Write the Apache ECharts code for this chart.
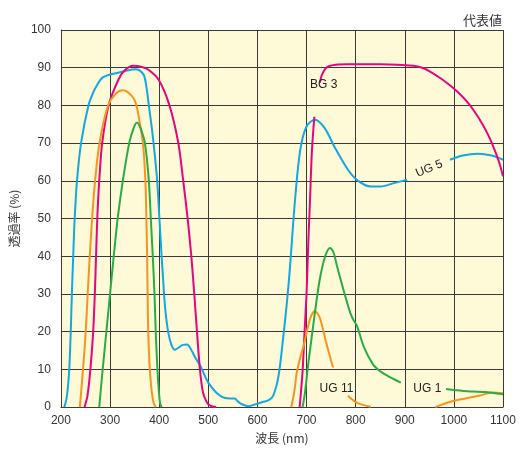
<!DOCTYPE html>
<html><head><meta charset="utf-8">
<script src="https://cdn.jsdelivr.net/npm/echarts@6/dist/echarts.min.js"></script>
<style>html,body{margin:0;padding:0;background:#fff}#c{width:520px;height:449px}</style>
</head><body><div id="c"></div>
<script>
// x ticks (nm) and y ticks (%)
var xTicks = [200,300,400,500,600,700,800,900,1000,1100];
var yTicks = [0,10,20,30,40,50,60,70,80,90,100];

// UG 5 (cyan)
var ug5_nm = [207,211,214,217,220,222.3,225,228,232.7,241,256,266,274,284,300,314,330,351,360,369,374,379,386,391,396,400.5,405,408,410.5,414,419,425,432,440,448,457,466,474,484,500,524,544,554,560,568,582,597,612,622,632,643,653,660,666,676,687,700,717,737,757,784,805,831,851,878,905,950,992,1018,1048,1077,1100];
var ug5_T  = [0,2,5,10,20,30,40,50,60,70,80,83.5,85.5,87.3,88.2,88.6,89.1,89.6,89.3,88,85,80,73,67,60,50,40,34,29,24,19.5,16.5,15.2,15.8,16.5,16.6,15,13,10.9,6.5,3,2.3,2.3,1.5,0.8,0.2,0.8,1.4,1.8,3,8.3,19,27.7,36.5,54,68,74.4,76.2,74,69,63,60,58.5,58.5,59.4,60.3,null,65.6,66.7,67.2,66.7,65.6];

// BG 3 (magenta)
var bg3_nm = [248,254,260,265.7,269,271.5,274,278,284,297,317,330,347,365,379,399,421,439,449,458,465.5,471.5,477,483,489,497,505,516,600,686,692,696,700,704,707,711,716,721,727,731,738,745,760,783,851,918,940,955,975,993,1010,1028,1043,1057,1069,1079,1092,1100];
var bg3_T  = [0,3,10,20,30,40,50,60,70,80,86.8,89.3,90.5,90.2,89.4,86.8,80,70,60,50,40,30,20,10,4,1.3,0.3,0,null,0,9.5,20,30,45,54.5,68,77,null,86,88,89.7,90.4,90.8,90.9,90.9,90.5,89.8,88.7,87,85.2,83.3,80.8,78.2,75.3,72.4,69.5,65,61.2];

// UG 11 (orange)
var ug11_nm = [238.5,245,250.5,254.5,258.7,263.5,269.5,278.5,296,311,326,345,353.7,361,367,372,374,375.5,376.5,377.8,381,385,389,393,500,669,675,680,687,694,707,717,727,740,754,770,784,795,805,831,900,962,1000,1051,1079,1100];
var ug11_T  = [0,10,20,30,40,50,60,70,80,83,84,82.4,80,75,70,60,50,40,30,20,10,4,1,0,null,0,4,9,13,16.2,23.3,25.5,23.7,17.1,10.5,null,3,1.8,1,0.1,null,0,1.7,3,3.9,3.7];

// UG 1 (green)
var ug1_nm = [278,285,292.5,300,307.5,315.5,326,339,348,355,362,371,379,383,387,390.5,393,396.5,399.5,402,405,550,692,697,703,710,717,727,738,748,755,762,775,789,796,803,816,835,850,865,892,940,984,1019,1063,1100];
var ug1_T  = [0,10,20,30,40,50,60,70,74,75.5,74,70,60,50,40,30,20,10,4,1,0,null,0,4,10.9,18,25,33.9,40,42.2,41,37.4,31.2,25,23,21.5,16.2,11.4,9.5,8.3,6.5,null,4.8,4.3,4.0,3.4];

var seriesNames = ['UG 5','BG 3','UG 11','UG 1'];

function pairs(xs, ys){ return xs.map(function(x,i){ return [x, ys[i]===null ? '-' : ys[i]]; }); }

var tickFont = {fontFamily:'"Liberation Sans", Arial, sans-serif', fontSize:12, color:'#333'};
function lbl(coord, text, rot){
  return {coord:coord, value:text, label:{show:true, position:'inside', formatter:text, rotate:rot||0,
    fontFamily:'"Liberation Sans", Arial, sans-serif', fontSize:12, color:'#222'}};
}
function mk(list){
  return {symbol:'rect', symbolSize:1, itemStyle:{color:'rgba(0,0,0,0)'}, silent:true, data:list, animation:false};
}
function line(name, xs, ys, color, marks){
  return {name:name, type:'line', data:pairs(xs, ys), showSymbol:false, smooth:0.3,
    connectNulls:false, lineStyle:{color:color, width:2}, markPoint:mk(marks)};
}

var chart = echarts.init(document.getElementById('c'), null, {renderer:'canvas'});
chart.setOption({
  animation:false,
  backgroundColor:'#ffffff',
  title:{text:'代表値', right:13, top:9, textStyle:{fontFamily:'"Noto Sans CJK JP", sans-serif', fontSize:13, fontWeight:'normal', color:'#333'}},
  grid:{left:58, right:17, top:30, bottom:41, show:true, backgroundColor:'#fef9d6', borderWidth:0},
  xAxis:{type:'value', min:xTicks[0], max:xTicks[xTicks.length-1], interval:100,
    name:'波長 (nm)', nameLocation:'middle', nameGap:24,
    nameTextStyle:{fontFamily:'"Noto Sans CJK JP", sans-serif', fontSize:12, color:'#333'},
    axisLine:{show:true, lineStyle:{color:'#3a3a3a', width:1}}, axisTick:{show:false},
    axisLabel:Object.assign({margin:8, formatter:function(v){return String(v);}}, tickFont),
    splitLine:{show:true, lineStyle:{color:'#3a3a3a', width:1}}},
  yAxis:{type:'value', min:yTicks[0], max:yTicks[yTicks.length-1], interval:10,
    name:'透過率 (%)', nameLocation:'middle', nameGap:33, nameRotate:90,
    nameTextStyle:{fontFamily:'"Noto Sans CJK JP", sans-serif', fontSize:12, color:'#333'},
    axisLine:{show:true, lineStyle:{color:'#3a3a3a', width:1}}, axisTick:{show:false},
    axisLabel:Object.assign({margin:10, formatter:function(v){return String(v);}}, tickFont),
    splitLine:{show:true, lineStyle:{color:'#3a3a3a', width:1}}},
  series:[
    line(seriesNames[0], ug5_nm, ug5_T, '#10a9e2', [lbl([950,63.2], 'UG 5', 22)]),
    line(seriesNames[1], bg3_nm, bg3_T, '#e4057f', [lbl([735,85.6], 'BG 3')]),
    line(seriesNames[2], ug11_nm, ug11_T, '#f7941e', [lbl([761,5], 'UG 11')]),
    line(seriesNames[3], ug1_nm, ug1_T, '#27ad45', [lbl([946,5], 'UG 1')])
  ]
});
</script></body></html>
